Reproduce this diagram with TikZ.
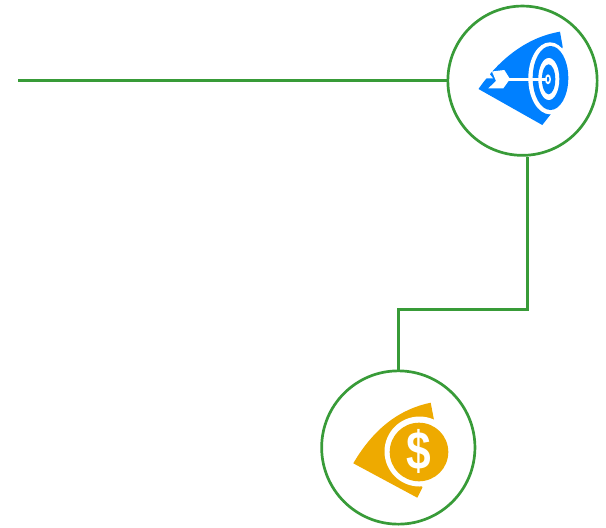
\documentclass[tikz,border=0pt]{standalone}
\usepackage{fontspec}
\newfontfamily\dollarfont{Liberation Sans}
\begin{document}
\begin{tikzpicture}[x=1pt,y=-1pt,
  ringnode/.style = {circle, draw = linegreen, line width = 2.7pt, inner sep = 0, fill = white},
  wire/.style = {draw = linegreen, line width = 2.7pt}]
\definecolor{linegreen}{RGB}{56,155,56}
\definecolor{targetblue}{RGB}{0,128,255}
\definecolor{coinyellow}{RGB}{238,170,0}
\useasboundingbox (0,0) rectangle (606,528);
\node[ringnode, minimum size = 149.3pt] (target) at (522.5,80.7) {};
\node[ringnode, minimum size = 153.3pt] (coin) at (398.3,447.5) {};
\coordinate (start) at (18,80.7);
\coordinate (bend1) at (527.7,309.7);
\coordinate (bend2) at (398.3,309.7);
\draw[wire] (start) -- (target.west);
\draw[wire, line join = miter] (target.south -| bend1) -- (bend1) -- (bend2) -- (coin.north);
% target icon
\fill[targetblue] (560,31.7) .. controls (528,37) and (500,58) .. (478.5,89) -- (542.3,125) -- (550.7,114.3) -- (550,78) -- (562.7,47) -- cycle;
\fill[white] (550,78.3) ellipse (21.7 and 36);
\fill[targetblue] (550.5,78) ellipse (17.8 and 32);
\fill[white] (548.8,79) ellipse (10.5 and 21);
\fill[targetblue] (548.6,79.3) ellipse (6.7 and 15);
\fill[white] (548,79.3) ellipse (3 and 5);
\fill[targetblue] (548,79.3) ellipse (1.3 and 2.5);
\draw[white, line width = 2.2pt] (505,79.5) -- (547,79.5);
\fill[white] (492,71.5) -- (504.3,70) -- (510,79) -- (503.3,88.3) -- (488.3,88.3) -- (496,81) -- cycle;
\fill[white] (483.3,78.3) -- (488.3,72.3) -- (493,78.3) -- cycle;
% coin icon
\fill[coinyellow] (430.7,402.7) .. controls (400,409) and (374,428) .. (353.3,463.3) -- (417.3,497.7) -- (422.3,487.7) -- (419,452) -- (434,420) -- cycle;
\fill[white] (419.5,451.5) circle (35);
\fill[coinyellow] (419,452) circle (29.3);
\node[text = white, font = \dollarfont\bfseries\fontsize{54}{54}\selectfont, inner sep = 0, xscale = 0.82] (dollar) at (419,451.5) {\$};
\end{tikzpicture}
\end{document}
